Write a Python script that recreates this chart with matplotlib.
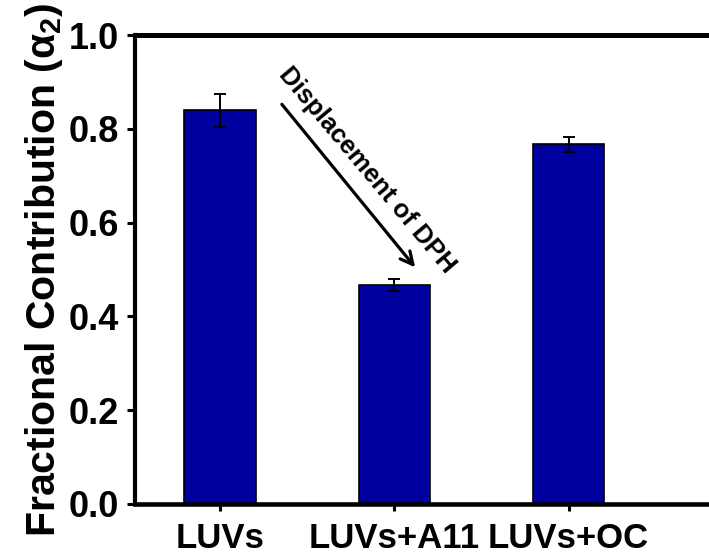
import matplotlib
matplotlib.use("Agg")
import matplotlib.pyplot as plt
import matplotlib.transforms as mtransforms

# Fractional contribution of the second lifetime component
categories = ["LUVs", "LUVs+A11", "LUVs+OC"]
alpha2 = [0.840, 0.467, 0.767]
alpha2_err = [0.035, 0.012, 0.016]

plt.rcParams['font.family'] = ['Liberation Sans', 'DejaVu Sans']
plt.rcParams['font.weight'] = 'bold'
plt.rcParams['mathtext.fontset'] = 'custom'
plt.rcParams['mathtext.rm'] = 'Liberation Sans:bold'
plt.rcParams['mathtext.it'] = 'Liberation Sans:bold:italic'
plt.rcParams['mathtext.bf'] = 'Liberation Sans:bold'

fig = plt.figure(figsize=(7.09, 5.58), dpi=100)
ax = fig.add_axes([0.190, 0.097, 0.810, 0.840])

x = list(range(len(categories)))
ax.bar(x, alpha2, width=0.41, color="#00009E", edgecolor="black", linewidth=1.2,
       yerr=alpha2_err, error_kw=dict(ecolor="black", elinewidth=1.4, capsize=4.5, capthick=1.4),
       zorder=2)

ax.set_xlim(-0.489, 2.805)
ax.set_ylim(0.0, 1.0)
ax.set_yticks([0.0, 0.2, 0.4, 0.6, 0.8, 1.0])
ax.set_yticklabels(["0.0", "0.2", "0.4", "0.6", "0.8", "1.0"], fontsize=26, fontweight='bold')
ax.set_xticks(x)
ax.set_xticklabels(categories, fontsize=25, fontweight='bold')

# nudge the category labels so neighbouring names stay apart
for lab, dx in zip(ax.get_xticklabels(), [10, -14, -1]):
    lab.set_transform(lab.get_transform() +
                      mtransforms.ScaledTranslation(dx / 100, 0, fig.dpi_scale_trans))

ax.tick_params(axis='y', direction='out', length=6, width=2.2, pad=5)
ax.tick_params(axis='x', direction='out', length=5, width=2.2, pad=8)

ax.spines['right'].set_visible(False)
ax.spines['left'].set_linewidth(3.0)
ax.spines['bottom'].set_linewidth(3.3)
ax.spines['top'].set_linewidth(3.6)

ax.set_ylabel(r"Fractional Contribution (α$_2$)", fontsize=29.5, fontweight='bold', labelpad=3)

# Arrow showing the drop from LUVs to LUVs+A11
ax.annotate("", xy=(1.13, 0.500), xytext=(0.345, 0.857),
            arrowprops=dict(arrowstyle="->,head_length=0.9,head_width=0.45", color="black", lw=2.3))
ax.text(0.365, 0.925, "Displacement of DPH", fontsize=18.5, fontweight='bold',
        rotation=-50, rotation_mode='anchor', ha='left', va='center')

fig.savefig("out.png", dpi=100)
